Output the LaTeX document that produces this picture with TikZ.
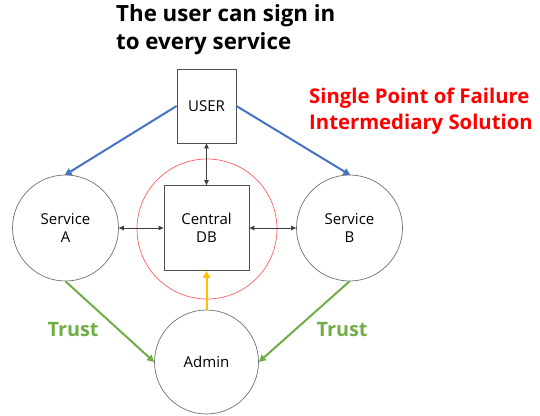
\documentclass[tikz,border=0pt]{standalone}
\usepackage{fontspec}
\setmainfont{Open Sans}
\usetikzlibrary{arrows.meta}
\definecolor{myblue}{HTML}{4472C4}
\definecolor{mygreen}{HTML}{70AD47}
\definecolor{myorange}{HTML}{FFC000}
\definecolor{circgray}{HTML}{6F6F6F}
\definecolor{boxgray}{HTML}{505050}
\definecolor{lightred}{HTML}{FF6060}
\tikzset{
  svc/.style={circle, draw=circgray, line width=0.7pt, minimum size=106pt, inner sep=0pt, align=center, font=\fontsize{15}{18}\selectfont},
  sqbox/.style={draw=boxgray, line width=0.8pt, inner sep=0pt, align=center, font=\fontsize{15}{18}\selectfont},
  bluearrow/.style={myblue, line width=2pt, -{Triangle[length=7pt,width=7pt]}, shorten >=-1pt},
  greenarrow/.style={mygreen, line width=2pt, -{Triangle[length=7pt,width=7pt]}},
  thinarrow/.style={black!75, line width=0.8pt, {Triangle[length=5pt,width=4.5pt]}-{Triangle[length=5pt,width=4.5pt]}},
  orangearrow/.style={myorange, line width=2pt, -{Triangle[length=7pt,width=7pt]}},
  titletext/.style={font=\bfseries\fontsize{22.3}{28}\selectfont, align=left, anchor=north west, inner sep=0pt},
  redtext/.style={red, font=\bfseries\fontsize{20.3}{26}\selectfont, align=left, anchor=north west, inner sep=0pt},
  trusttext/.style={mygreen, font=\bfseries\fontsize{19.8}{22}\selectfont, inner sep=0pt}
}
\begin{document}
\begin{tikzpicture}[x=1pt,y=-1pt]
\useasboundingbox (0,0) rectangle (540,415);
\node[titletext] (title) at (116,4) {The user can sign in\\to every service};
\node[redtext] (spof) at (309,88) {Single Point of Failure\\Intermediary Solution};

\node[sqbox, minimum width=59pt, minimum height=74pt] (user) at (206.5,106) {USER};
\node[sqbox, minimum width=85pt, minimum height=85pt] (db) at (206.5,228) {Central\\DB};
\node[circle, draw=lightred, line width=0.7pt, minimum size=140pt, inner sep=0pt] (spofc) at (207,229) {};
\node[svc] (sa) at (65.5,228) {Service\\A};
\node[svc] (sb) at (349.5,228) {Service\\B};
\node[svc, minimum size=104pt] (admin) at (206.5,362) {Admin};

\draw[bluearrow] (user.west) -- (sa.north);
\draw[bluearrow] (user.east) -- (sb.north);
\draw[thinarrow] (user.south) -- (db.north);
\draw[thinarrow] (sa.east) -- (db.west);
\draw[thinarrow] (sb.west) -- (db.east);
\draw[orangearrow] (admin.north) -- (db.south);
\draw[greenarrow] (sa.south) -- (admin.west);
\draw[greenarrow] (sb.south) -- (admin.east);

\node[trusttext] (trust1) at (73,330) {Trust};
\node[trusttext] (trust2) at (342,330) {Trust};
\end{tikzpicture}
\end{document}
